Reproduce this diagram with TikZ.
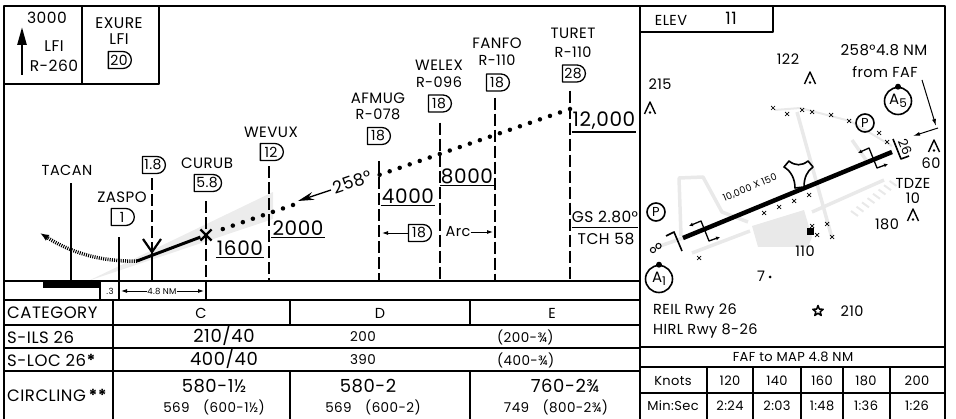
\documentclass[tikz,border=0pt]{standalone}
\usepackage{fontspec}
\setmainfont[LetterSpace=3]{Poppins}
\usetikzlibrary{positioning,calc,arrows.meta,shapes.misc,shapes.geometric}
\newcommand{\fsz}[1]{\fontsize{#1}{#1}\selectfont}
\tikzset{
  obst/.pic={\draw[line width=1.4pt] (-5.5,6) -- (0,-6) -- (5.5,6); \fill (0,4.5) circle (1.3pt);},
  fence/.pic={\draw[line width=0.7pt] (-2,-2) -- (2,2) (-2,2) -- (2,-2);}
}
\begin{document}
\begin{tikzpicture}[x=1pt,y=-1pt,line join=round]
  \tikzstyle{frameline}=[line width=2pt]
  \tikzstyle{tline}=[line width=1.4pt]
  \tikzstyle{lbl}=[inner sep=0pt, font=\fsz{14.5}]
  \tikzstyle{fixname}=[inner sep=0pt, font=\fsz{15}]
  \tikzstyle{rowname}=[inner sep=0pt, anchor=west, font=\fsz{16.5}]
  \tikzstyle{boxtxt}=[inner sep=0pt, font=\fsz{15.5}]
  \tikzstyle{big}=[inner sep=0pt, font=\fsz{18}]
  \tikzstyle{sub}=[inner sep=0pt, font=\fsz{13.5}]
  \tikzstyle{tbl}=[inner sep=0pt, font=\fsz{13}]
  \tikzstyle{tinytxt}=[inner sep=0pt, font=\fsz{8.5}]
  \tikzstyle{alt}=[inner xsep=1pt, inner ysep=2pt, font=\fsz{20}]
  \tikzstyle{dme}=[draw, line width=1.3pt, rounded rectangle,
    rounded rectangle west arc=none, minimum height=17pt,
    minimum width=27pt, inner xsep=2pt, inner ysep=0pt, font=\fsz{14}]
  \tikzstyle{fixline}=[line width=1.1pt, dash pattern=on 12pt off 4pt]
  \tikzstyle{solidline}=[line width=1.1pt]
  \tikzstyle{dots}=[line width=4.5pt, line cap=round, dash pattern=on 0pt off 10.6pt]
  \tikzstyle{missed}=[line width=3.5pt, dash pattern=on 1pt off 1.2pt,
    -{Latex[length=9pt,width=7pt]}]
  \tikzstyle{taxi}=[gray!17, line width=3.5pt]
  \tikzstyle{ring}=[circle, draw, line width=1.6pt, inner sep=0pt]
  \tikzstyle{smallarrow}=[line width=0.9pt, -{Latex[length=6pt,width=4pt]}]

  \useasboundingbox (0,0) rectangle (956,419);
  \coordinate (gnd) at (0,281);

  % approach gray wedge
  \fill[gray!15] (88,281) -- (273,192) -- (273,219) -- cycle;

  % top left boxes
  \draw[frameline] (4,84) -- (159,84) -- (159,6) (82,6) -- (82,84);
  \node[boxtxt] (msalt) at (47,18) {3000};
  \node[boxtxt] (mslfi) at (54,46) {LFI};
  \node[boxtxt] (msrad) at (54,66) {R-260};
  \coordinate (mslow) at (22,75);
  \coordinate (mshigh) at (22,27);
  \draw[line width=2.6pt, -{Triangle[length=18pt,width=9pt]}] (mslow) -- (mshigh);
  \node[dme] (exure20) at (119,60) {20};
  \node[boxtxt] (exurelfi) [above=6pt of exure20] {LFI};
  \node[boxtxt] (exure) [above=5pt of exurelfi] {EXURE};

  % fixes
  \node[lbl] (tacan) at (67,170) {TACAN};
  \draw[solidline] ([xshift=4pt,yshift=-8pt]tacan.south) -- ([xshift=4pt]tacan.south |- gnd);

  \node[dme] (zaspo1) at (122,217) {1};
  \node[fixname] (zaspo) [above=5pt of zaspo1] {ZASPO};
  \draw[solidline] ([xshift=-3pt,yshift=-11pt]zaspo1.south) -- ([xshift=-3pt]zaspo1.south |- gnd);

  \node[dme] (fix18) at (153,165) {1.8};
  \coordinate (vtip) at (152,252);
  \draw[fixline] ([xshift=-1pt,yshift=-4pt]fix18.south) -- (vtip);
  \draw[solidline] (vtip) -- (vtip |- gnd);
  \draw[line width=2.2pt] ($(vtip)+(-9,-13)$) -- (vtip) -- ($(vtip)+(9,-13)$);

  \node[dme] (curub58) at (207,183) {5.8};
  \node[fixname] (curub) [above=5pt of curub58] {CURUB};
  \draw[fixline] ([xshift=-1pt,yshift=-9pt]curub58.south) -- ([xshift=-1pt]curub58.south |- gnd);

  \node[dme] (wevux12) at (271,152) {12};
  \node[fixname] (wevux) [above=5pt of wevux12] {WEVUX};
  \draw[fixline] ([xshift=-2pt,yshift=-5pt]wevux12.south) -- ([xshift=-2pt]wevux12.south |- gnd);

  \node[dme] (afmug18) at (378,136) {18};
  \node[lbl] (afmugr) [above=7pt of afmug18] {R-078};
  \node[fixname] (afmug) [above=5pt of afmugr] {AFMUG};
  \draw[fixline] ([xshift=1pt,yshift=-16pt]afmug18.south) -- ([xshift=1pt]afmug18.south |- gnd);

  \node[dme] (welex18) at (439,103.5) {18};
  \node[lbl] (welexr) [above=7pt of welex18] {R-096};
  \node[fixname] (welex) [above=6pt of welexr] {WELEX};
  \draw[fixline] ([xshift=1pt,yshift=-10pt]welex18.south) -- ([xshift=1pt]welex18.south |- gnd);

  \node[dme] (fanfo18) at (497,82.5) {18};
  \node[lbl] (fanfor) [above=8pt of fanfo18] {R-110};
  \node[fixname] (fanfo) [above=5pt of fanfor] {FANFO};
  \draw[fixline] ([xshift=-2pt,yshift=-6pt]fanfo18.south) -- ([xshift=-2pt]fanfo18.south |- gnd);

  \node[dme] (turet28) at (573,73.5) {28};
  \node[lbl] (turetr) [above=7pt of turet28] {R-110};
  \node[fixname] (turet) [above=7pt of turetr] {TURET};
  \draw[fixline] ([xshift=-3pt,yshift=-8pt]turet28.south) -- ([xshift=-3pt]turet28.south |- gnd);

  % altitudes
  \node[alt] (a1600) at (240,248) {1600};
  \node[alt] (a2000) at (298,228) {2000};
  \node[alt] (a4000) at (408,196) {4000};
  \node[alt] (a8000) at (467,176) {8000};
  \node[alt] (a12000) at (604,121) {12,000};
  \foreach \a in {a1600,a2000,a4000,a8000,a12000}
    \draw[line width=1.2pt] (\a.south west) -- (\a.south east);
  \node[inner sep=0pt, font=\fsz{15.5}] (gs) at (605,217) {GS 2.80°};
  \node[inner sep=0pt, font=\fsz{15.5}] (tch) at (606,239) {TCH 58};
  \draw[line width=0.9pt] ([yshift=-4pt]gs.south west) -- ([yshift=-4pt]gs.south east);

  \node[dme] (arc18) at (419,233) {18};
  \node[lbl] (arctxt) at (458,232) {Arc};
  \coordinate (arcl) at (382,233);
  \coordinate (arcr) at (493,232);
  \draw[smallarrow] (arc18.west) -- (arcl);
  \draw[smallarrow] (arctxt.east) -- (arcr);

  % glide path
  \coordinate (gsturet) at (570,109);
  \coordinate (gsafmug) at (379,175);
  \coordinate (gsdot) at (293,205);
  \coordinate (gsfafdot) at (220,230);
  \coordinate (mapt) at (137,261);
  \coordinate (missend) at (40,233);
  \node[cross out, draw, line width=2.2pt, minimum size=9pt, inner sep=0pt] (fafx) at (206,235) {};
  \draw[dots] (gsturet) -- (gsafmug);
  \draw[dots] (gsdot) -- (gsfafdot);
  \draw[line width=1.4pt, -{Stealth[length=16pt,width=8pt]}] (331,190) -- (298,201);
  \node[inner sep=0pt, font=\fsz{17}, rotate=19] (crs258) at (352,182) {258°};
  \draw[line width=3pt] (mapt) -- (fafx);
  \draw[missed] (mapt) .. controls (100,262) and (70,252) .. (missend);

  % ground, scale bar
  \draw[frameline] (4,281) -- (640,281);
  \fill (43,281) rectangle (100,288);
  \draw[tline] (100,281) -- (100,300) (119,281) -- (119,300) (206,281) -- (206,300);
  \node[tinytxt] (sc03) at (110,291) {.3};
  \node[tinytxt] (sc48) at (162,291) {4.8 NM};
  \draw[smallarrow] (sc48.west) -- (121,291);
  \draw[smallarrow] (sc48.east) -- (204,291);

  % minimums table
  \draw[frameline] (4,300) -- (640,300);
  \draw[tline] (4,325) -- (640,325) (4,348) -- (640,348) (4,371) -- (640,371);
  \draw[tline] (113,300) -- (113,419);
  \draw[tline] (290,300) -- (290,325) (470,300) -- (470,325)
    (290,371) -- (290,419) (470,371) -- (470,419);
  \node[rowname] (cat) at (7,313) {CATEGORY};
  \node[lbl] (catc) at (201,313) {C};
  \node[lbl] (catd) at (380,313) {D};
  \node[lbl] (cate) at (552,313) {E};
  \node[rowname] (sils) at (7,337) {S-ILS 26};
  \node[big] (silsc) at (224,336) {210/40};
  \node[sub] (silsd) at (363,337) {200};
  \node[sub, anchor=west] (silse) at (497,337) {(200-¾)};
  \node[rowname] (sloc) at (7,360) {S-LOC 26\textbf{*}};
  \node[big] (slocc) at (224,359) {400/40};
  \node[sub] (slocd) at (363,360) {390};
  \node[sub, anchor=west] (sloce) at (497,360) {(400-¾)};
  \node[rowname] (circ) at (7,395) {CIRCLING\,\textbf{**}};
  \node[big] (circc) at (214,386) {580-1½};
  \node[sub] (circcs) at (214,407) {569\quad(600-1½)};
  \node[big] (circd) at (368,386) {580-2};
  \node[sub] (circds) at (373,407) {569\quad(600-2)};
  \node[big] (circe) at (565,386) {760-2¾};
  \node[sub] (circes) at (556,407) {749\quad(800-2¾)};

  % airport sketch, gray
  \draw[taxi] (660,246) -- (683,238);
  \draw[taxi] (681,236) -- (679,178) -- (703,177) -- (722,212) -- (748,222);
  \draw[taxi] (692,253) -- (750,231);
  \draw[taxi] (812,212) -- (884,180);
  \draw[taxi] (797,112) -- (832,238);
  \draw[taxi] (852,140) -- (866,160);
  \draw[gray!17, line width=2pt] (775,110) -- (800,108) -- (850,121) -- (892,146);
  \fill[gray!17] (752,226) -- (804,210) -- (812,237) -- (808,247) -- (758,247) -- cycle;
  \foreach \k in {0,...,7}
    \draw[gray!17, line width=2pt] ($(851,211)+(\k*5.5,-\k*4.3)$) -- ++(7,5);

  % airport sketch, runway
  \coordinate (rw08) at (683,238);
  \coordinate (rw26) at (892,152);
  \draw[line width=4.5pt] (rw08) -- (rw26);
  \draw[line width=1.6pt] (666,236) -- (674,232) -- (682,251);
  \draw[line width=1.6pt] (893,139) -- (901,159) -- (909,156);
  \draw[line width=1.3pt, {Latex[length=4pt,width=4pt]}-{Latex[length=4pt,width=4pt]}]
    (689,226) -- (701,221) -- (709,241) -- (720,237);
  \draw[line width=1.3pt, {Latex[length=4pt,width=4pt]}-{Latex[length=4pt,width=4pt]}]
    (858,153) -- (869,148) -- (877,168) -- (888,164);
  \draw[line width=1.6pt, fill=white] (784,167) -- (789,161)
    .. controls (795,166) and (802,166) .. (808,161) -- (813,167)
    .. controls (807,171) and (804,178) .. (804,187) -- (795,188)
    .. controls (795,179) and (791,171) .. (784,167) -- cycle;
  \node[inner sep=0pt, font=\fsz{9.5}, rotate=22.5] (rwydim) at (750,188) {10,000 X 150};
  \node[inner sep=0pt, font=\fsz{13}, rotate=-67.5] (rwy26) at (905,147) {26};
  \foreach \p in {(773,108),(787,114),(802,110),(812,112),(831,115),(849,121),
    (879,133),(887,142),(764,213),(779,207),(794,201),(809,195),
    (812,226),(827,224),(817,235),(832,237),(699,258)}
    \pic at \p {fence};
  \node[fill, minimum size=7pt, inner sep=0pt] (bcn) at (810,232) {};
  \draw[line width=1pt] (653,250) circle (2.6pt) (658.5,246) circle (2.6pt);

  % airport sketch, labels
  \draw[frameline] (640,32) -- (773,32) -- (773,6);
  \node[lbl] (elev) at (671,20) {ELEV};
  \node[inner sep=0pt, font=\fsz{17}] (elevv) at (731,18) {11};
  \node[lbl] (o215) at (660,84) {215};
  \pic at (650,108) {obst};
  \node[lbl] (o122) at (788,59) {122};
  \pic at (810,78) {obst};
  \pic at (934,146) {obst};
  \node[lbl] (o60) at (931,163) {60};
  \node[lbl] (tdze) at (913,183) {TDZE};
  \node[lbl] (tdzev) at (913,198) {10};
  \pic at (913,215) {obst};
  \node[lbl] (o180) at (887,224) {180};
  \node[lbl] (o110) at (805,251) {110};
  \node[lbl] (o7) at (761,276) {7};
  \fill (770,277) circle (1.5pt);
  \node[lbl, font=\fsz{15}] (mapcrs) at (884,50) {258°4.8 NM};
  \node[lbl] (fromfaf) at (885,72) {from FAF};
  \coordinate (mapstart) at (922,80);
  \coordinate (mapfix) at (936,126);
  \coordinate (thr26) at (913,136);
  \draw[line width=1pt, -{Latex[length=7pt,width=4pt]}] (mapstart) -- (mapfix);
  \draw[line width=1pt, -{Latex[length=7pt,width=4pt]}] (938,128) -- (thr26);
  \node[ring, minimum size=27pt, font=\fsz{15}] (a5) at (898,101) {A\raisebox{-3pt}{\fsz{12}5}};
  \fill (a5.north) circle (3pt);
  \node[ring, minimum size=18pt, font=\fsz{13}] (ptop) at (865,123) {P};
  \node[ring, minimum size=18pt, font=\fsz{13}] (pleft) at (656,212) {P};
  \node[ring, minimum size=27pt, font=\fsz{15}] (a1) at (659,279) {A\raisebox{-3pt}{\fsz{12}1}};
  \fill (a1.north) circle (3pt);
  \node[lbl, anchor=west] (reil) at (653,311) {REIL Rwy 26};
  \node[lbl, anchor=west] (hirl) at (653,331) {HIRL Rwy 8-26};
  \node[star, star points=5, star point ratio=2.4, draw, line width=1.5pt,
    minimum size=11pt, inner sep=0pt] (rbcn) at (818,311) {};
  \node[lbl] (rbcnv) at (852,311) {210};

  % time table
  \draw[tline] (640,347) -- (945,347) (640,367) -- (945,367) (640,393) -- (945,393);
  \foreach \sx in {707,753,801,843,890}
    \draw[tline] (\sx,367) -- (\sx,419);
  \node[tbl] (fafmap) at (793,357) {FAF to MAP 4.8 NM};
  \node[tbl] (knots) at (673,381) {Knots};
  \node[tbl] (minsec) at (673,406) {Min:Sec};
  \foreach \kt/\tm/\cx [count=\i] in {120/2:24/730,140/2:03/777,160/1:48/822,180/1:36/866,200/1:26/917}{
    \node[tbl] (kt\i) at (\cx,381) {\kt};
    \node[tbl] (tm\i) at (\cx,406) {\tm};
  }

  % frame
  \draw[frameline] (640,6) -- (640,419);
  \draw[frameline] (4,419) -- (4,6) -- (945,6) -- (945,419);
\end{tikzpicture}
\end{document}
